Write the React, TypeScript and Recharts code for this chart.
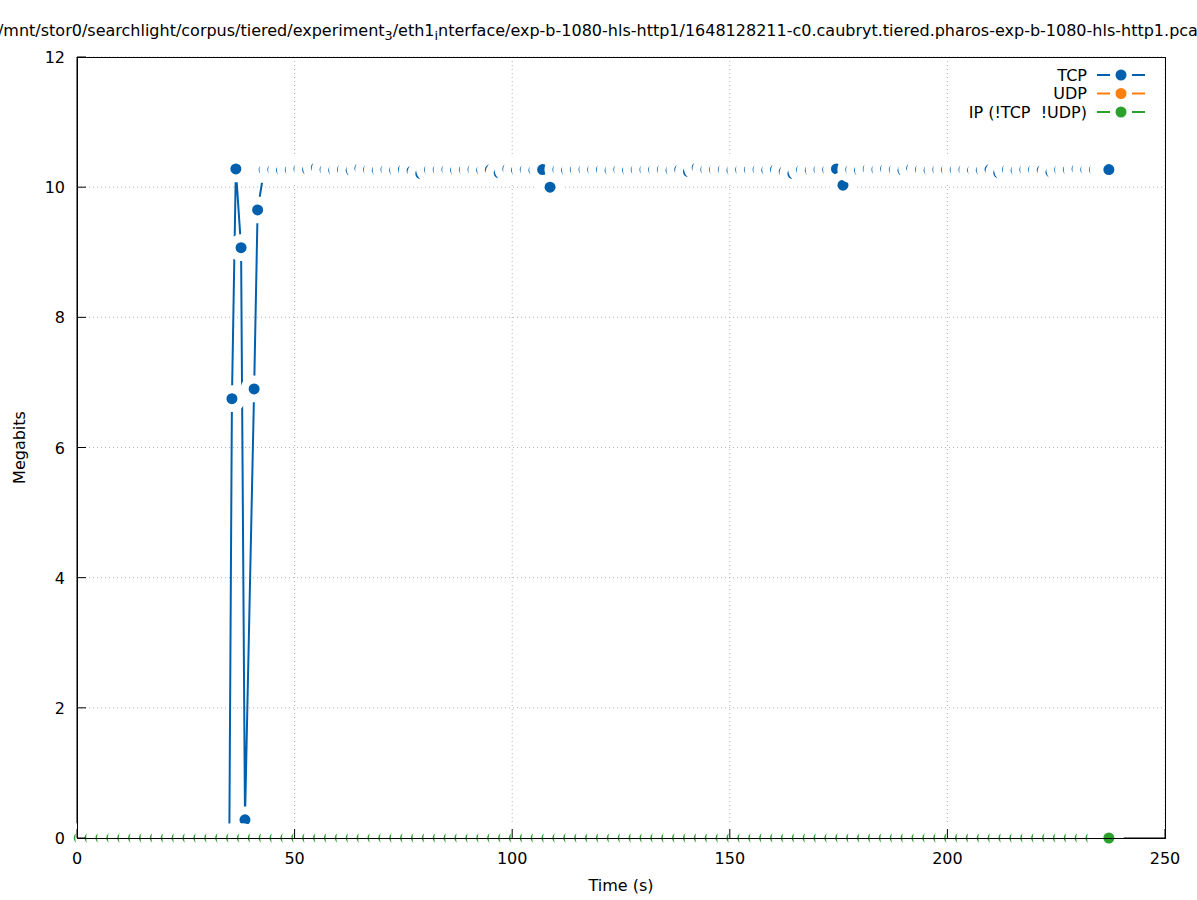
import React from "react";
import {
  LineChart,
  Line,
  XAxis,
  YAxis,
  CartesianGrid,
  Legend,
  Label,
} from "recharts";

const FONT = "'DejaVu Sans', sans-serif";
const TCP_COLOR = "#0060ad";
const UDP_COLOR = "#ff7f0e";
const IP_COLOR = "#2ca02c";

const xTicks = [0, 50, 100, 150, 200, 250];
const yTicks = [0, 2, 4, 6, 8, 10, 12];

// seconds since capture start
const tcpTimes = [
  35.0, 35.6, 36.5, 37.7, 38.6, 40.7, 41.5, 43,
  45, 47, 49, 51, 53, 55, 57, 59, 61, 63, 65, 67, 69, 71, 73, 75, 77, 79,
  81, 83, 85, 87, 89, 91, 93, 95, 97, 99, 101, 103, 105, 107,
  108.7,
  110.5, 112.5, 114.5, 116.5, 118.5, 120.5, 122.5, 124.5, 126.5, 128.5, 130.5,
  132.5, 134.5, 136.5, 138.5, 140.5, 142.5, 144.5, 146.5, 148.5, 150.5, 152.5,
  154.5, 156.5, 158.5, 160.5, 162.5, 164.5, 166.5, 168.5, 170.5, 172.5, 174.5,
  176,
  177.8, 179.8, 181.8, 183.8, 185.8, 187.8, 189.8, 191.8, 193.8, 195.8, 197.8,
  199.8, 201.8, 203.8, 205.8, 207.8, 209.8, 211.8, 213.8, 215.8, 217.8, 219.8,
  221.8, 223.8, 225.8, 227.8, 229.8, 231.8, 233.8, 235.8,
  237.1,
];

const tcpMegabits = [
  0, 6.75, 10.28, 9.07, 0.28, 6.9, 9.65, 10.27,
  10.27, 10.26, 10.27, 10.28, 10.27, 10.3, 10.27, 10.26, 10.27, 10.26, 10.29,
  10.27, 10.26, 10.27, 10.26, 10.27, 10.25, 10.21, 10.27, 10.27, 10.27, 10.26,
  10.27, 10.27, 10.26, 10.27, 10.22, 10.28, 10.26, 10.27, 10.26, 10.27,
  10.0,
  10.27, 10.26, 10.27, 10.27, 10.27, 10.27, 10.26, 10.27, 10.26, 10.27, 10.27,
  10.27, 10.27, 10.26, 10.27, 10.24, 10.3, 10.27, 10.27, 10.27, 10.26, 10.27,
  10.27, 10.27, 10.26, 10.27, 10.24, 10.21, 10.27, 10.26, 10.27, 10.27, 10.28,
  10.03,
  10.27, 10.26, 10.28, 10.27, 10.28, 10.27, 10.26, 10.29, 10.27, 10.26, 10.27,
  10.27, 10.27, 10.27, 10.26, 10.26, 10.27, 10.22, 10.27, 10.26, 10.27, 10.27,
  10.26, 10.23, 10.27, 10.27, 10.28, 10.27, 10.27, 10.27,
  10.27,
];

const udpTimes: number[] = [];
const udpMegabits: number[] = [];

const ipTimes = [
  0.5, 3, 5.5, 8, 10.5, 13, 15.5, 18, 20.5, 23, 25.5, 28, 30.5, 33, 35.5, 38,
  40.5, 43, 45.5, 48, 50.5, 53, 55.5, 58, 60.5, 63, 65.5, 68, 70.5, 73, 75.5,
  78, 80.5, 83, 85.5, 88, 90.5, 93, 95.5, 98, 100.5, 103, 105.5, 108, 110.5,
  113, 115.5, 118, 120.5, 123, 125.5, 128, 130.5, 133, 135.5, 138, 140.5, 143,
  145.5, 148, 150.5, 153, 155.5, 158, 160.5, 163, 165.5, 168, 170.5, 173,
  175.5, 178, 180.5, 183, 185.5, 188, 190.5, 193, 195.5, 198, 200.5, 203,
  205.5, 208, 210.5, 213, 215.5, 218, 220.5, 223, 225.5, 228, 230.5, 233,
  235.5, 237.1,
];

const ipMegabits = [
  0, 0, 0, 0, 0, 0, 0, 0, 0, 0, 0, 0, 0, 0, 0, 0,
  0, 0, 0, 0, 0, 0, 0, 0, 0, 0, 0, 0, 0, 0, 0,
  0, 0, 0, 0, 0, 0, 0, 0, 0, 0, 0, 0, 0, 0,
  0, 0, 0, 0, 0, 0, 0, 0, 0, 0, 0, 0, 0,
  0, 0, 0, 0, 0, 0, 0, 0, 0, 0, 0, 0,
  0, 0, 0, 0, 0, 0, 0, 0, 0, 0, 0, 0,
  0, 0, 0, 0, 0, 0, 0, 0, 0, 0, 0, 0,
  0, 0,
];

const toSeries = (times: number[], values: number[]) =>
  times.map((t, i) => ({ t, v: values[i] }));

const tcpData = toSeries(tcpTimes, tcpMegabits);
const udpData = toSeries(udpTimes, udpMegabits);
const ipData = toSeries(ipTimes, ipMegabits);

const legendItems = [
  { name: "TCP", color: TCP_COLOR },
  { name: "UDP", color: UDP_COLOR },
  { name: "IP (!TCP  !UDP)", color: IP_COLOR },
];

// gnuplot style point: blank disc first, then the point on top
const makeDot = (color: string, blank: number, prefix: string) => (props: any) => {
  const { cx, cy, index } = props;
  if (cx == null || cy == null) return <g key={`${prefix}-${index}`} />;
  return (
    <g key={`${prefix}-${index}`}>
      <circle cx={cx} cy={cy} r={blank} fill="#fff" />
      <circle cx={cx} cy={cy} r={5.5} fill={color} />
    </g>
  );
};

const BottomTick = (props: any) => {
  const { x, y, payload } = props;
  return (
    <g>
      <line x1={x} y1={y} x2={x} y2={y - 9} stroke="#000" />
      <text x={x} y={y + 26} textAnchor="middle" fontSize={16} fill="#000">
        {payload.value}
      </text>
    </g>
  );
};

const TopTick = (props: any) => {
  const { x, y } = props;
  return <line x1={x} y1={y} x2={x} y2={y + 9} stroke="#000" />;
};

const LeftTick = (props: any) => {
  const { x, y, payload } = props;
  return (
    <g>
      <line x1={x} y1={y} x2={x + 9} y2={y} stroke="#000" />
      <text x={x - 12} y={y + 6} textAnchor="end" fontSize={16} fill="#000">
        {payload.value}
      </text>
    </g>
  );
};

const RightTick = (props: any) => {
  const { x, y } = props;
  return <line x1={x} y1={y} x2={x - 9} y2={y} stroke="#000" />;
};

const XTitle = (props: any) => {
  const vb = props.viewBox;
  return (
    <text x={vb.x + vb.width / 2} y={vb.y + 53} textAnchor="middle" fontSize={16} fill="#000">
      Time (s)
    </text>
  );
};

const YTitle = (props: any) => {
  const vb = props.viewBox;
  const cx = vb.x + 2;
  const cy = vb.y + vb.height / 2;
  return (
    <text
      x={cx}
      y={cy}
      transform={`rotate(-90 ${cx} ${cy})`}
      textAnchor="middle"
      dominantBaseline="central"
      fontSize={16}
      fill="#000"
    >
      Megabits
    </text>
  );
};

const renderLegend = () => (
  <svg width={230} height={60} style={{ display: "block" }}>
    {legendItems.map((item, i) => {
      const y = 11 + i * 18.5;
      return (
        <g key={item.name}>
          <text
            x={157}
            y={y + 5.5}
            textAnchor="end"
            fontSize={16}
            fill="#000"
            style={{ whiteSpace: "pre" }}
          >
            {item.name}
          </text>
          <line x1={167} y1={y} x2={180} y2={y} stroke={item.color} strokeWidth={2} />
          <circle cx={191} cy={y} r={5.5} fill={item.color} />
          <line x1={202} y1={y} x2={215} y2={y} stroke={item.color} strokeWidth={2} />
        </g>
      );
    })}
  </svg>
);

export default function App() {
  return (
    <div
      style={{
        position: "absolute",
        left: 0,
        top: 0,
        width: 1197,
        height: 900,
        background: "#fff",
        fontFamily: FONT,
      }}
    >
      <div
        style={{
          position: "absolute",
          left: 603,
          top: 21,
          transform: "translateX(-50%)",
          whiteSpace: "nowrap",
          fontSize: 16,
          color: "#000",
        }}
      >
        /mnt/stor0/searchlight/corpus/tiered/experiment
        <sub style={{ fontSize: "0.8em" }}>3</sub>/eth1
        <sub style={{ fontSize: "0.8em" }}>i</sub>
        nterface/exp-b-1080-hls-http1/1648128211-c0.caubryt.tiered.pharos-exp-b-1080-hls-http1.pcap
      </div>
      <LineChart width={1197} height={900} margin={{ top: 57, right: 32, bottom: 6, left: 17 }}>
        <CartesianGrid stroke="#b4b4b4" strokeDasharray="1 3" />
        <Line
          data={tcpData}
          dataKey="v"
          name="TCP"
          type="linear"
          stroke={TCP_COLOR}
          strokeWidth={2}
          dot={makeDot(TCP_COLOR, 13.4, "tcp")}
          activeDot={false}
          isAnimationActive={false}
        />
        <Line
          data={udpData}
          dataKey="v"
          name="UDP"
          type="linear"
          stroke={UDP_COLOR}
          strokeWidth={2}
          dot={makeDot(UDP_COLOR, 14.8, "udp")}
          activeDot={false}
          isAnimationActive={false}
        />
        <Line
          data={ipData}
          dataKey="v"
          name="IP (!TCP  !UDP)"
          type="linear"
          stroke={IP_COLOR}
          strokeWidth={2}
          dot={makeDot(IP_COLOR, 14.8, "ip")}
          activeDot={false}
          isAnimationActive={false}
        />
        <XAxis
          dataKey="t"
          type="number"
          domain={[0, 250]}
          ticks={xTicks}
          interval={0}
          height={56}
          tickSize={0}
          tickMargin={0}
          tickLine={false}
          axisLine={{ stroke: "#000" }}
          tick={<BottomTick />}
        >
          <Label content={<XTitle />} />
        </XAxis>
        <XAxis
          xAxisId="top"
          orientation="top"
          type="number"
          domain={[0, 250]}
          ticks={xTicks}
          interval={0}
          height={0}
          tickSize={0}
          tickMargin={0}
          tickLine={false}
          axisLine={{ stroke: "#000" }}
          tick={<TopTick />}
        />
        <YAxis
          type="number"
          domain={[0, 12]}
          ticks={yTicks}
          interval={0}
          width={60}
          tickSize={0}
          tickMargin={0}
          tickLine={false}
          axisLine={{ stroke: "#000" }}
          tick={<LeftTick />}
        >
          <Label content={<YTitle />} />
        </YAxis>
        <YAxis
          yAxisId="right"
          orientation="right"
          type="number"
          domain={[0, 12]}
          ticks={yTicks}
          interval={0}
          width={0}
          tickSize={0}
          tickMargin={0}
          tickLine={false}
          axisLine={{ stroke: "#000" }}
          tick={<RightTick />}
        />
        <Legend
          layout="horizontal"
          verticalAlign="middle"
          align="center"
          content={renderLegend}
          wrapperStyle={{ position: "absolute", left: 930, top: 64, width: 230, height: 60 }}
        />
      </LineChart>
      {/* plot border kept above the blank point discs */}
      <div
        style={{
          position: "absolute",
          left: 77,
          top: 57,
          width: 1089,
          height: 782,
          boxSizing: "border-box",
          border: "1px solid #000",
          pointerEvents: "none",
        }}
      />
    </div>
  );
}
